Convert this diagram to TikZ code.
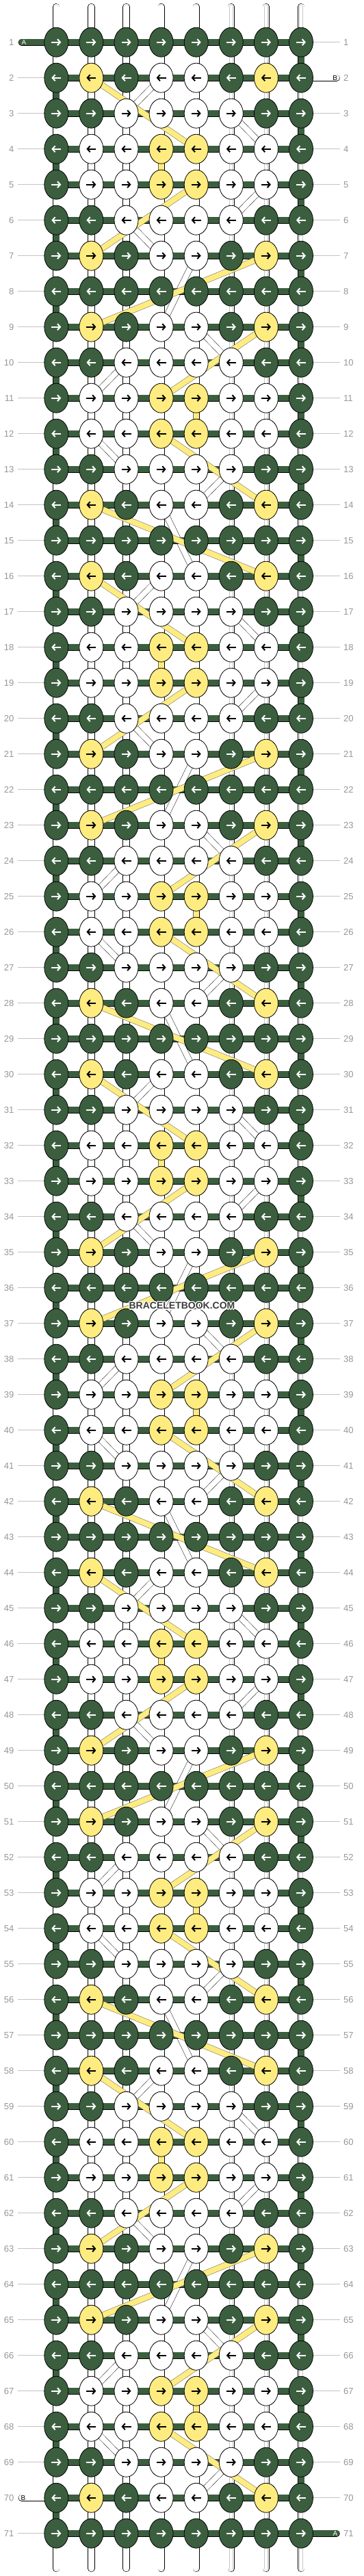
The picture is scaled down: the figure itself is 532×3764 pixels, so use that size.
\documentclass[tikz,border=0pt]{standalone}
\usepackage{fontspec}
\setmainfont{Liberation Sans}
\usetikzlibrary{calc}
\usetikzlibrary{shapes.geometric}
\usetikzlibrary{arrows.meta}
\definecolor{knotgreen}{RGB}{59,94,63}
\definecolor{knotyellow}{RGB}{255,236,128}
\definecolor{rowgray}{RGB}{150,150,150}
\definecolor{linegray}{RGB}{195,195,195}
\definecolor{markgray}{RGB}{60,60,60}
% 0 = green, 1 = white, 2 = yellow; one line of 8 per row of the 7-row motif
\def\knotmap{{0,0,0,0,0,0,0,0,
              0,2,0,1,1,0,2,0,
              0,0,1,1,1,1,0,0,
              0,1,1,2,2,1,1,0,
              0,1,1,2,2,1,1,0,
              0,0,1,1,1,1,0,0,
              0,2,0,1,1,0,2,0}}

\begin{document}
\begin{tikzpicture}[x=1pt,y=-1pt,
    kn0/.style={ellipse,draw=black,line width=0.8pt,fill=knotgreen,
      minimum width=35pt,minimum height=43pt,inner sep=0pt},
    kn1/.style={kn0,fill=white},
    kn2/.style={kn0,fill=knotyellow},
    ar0/.style={white,line width=2pt,-{Straight Barb[length=4pt,width=9pt]}},
    ar1/.style={ar0,black},
    ar2/.style={ar1},
    wstrand/.style={draw=black,line width=0.6pt,double=white,double distance=9pt},
    wcore/.style={draw=black!22,line width=0.5pt,double=white,double distance=4.5pt},
    gstrand/.style={draw=black,line width=0.6pt,double=knotgreen,double distance=9pt},
    ystrand/.style={draw=black!60,line width=0.5pt,double=knotyellow,double distance=8pt},
    wdiag/.style={draw=black,line width=0.45pt,double=white,double distance=8pt},
    rownum/.style={text=rowgray,font=\fontsize{13}{13}\selectfont,inner sep=0pt},
    rowline/.style={draw=linegray,line width=0.7pt},
    endlabel/.style={font=\fontsize{10}{10}\selectfont,inner sep=0pt},
    wmark/.style={font=\fontsize{14}{14}\selectfont\bfseries,inner sep=0pt}]
  \useasboundingbox (0,0) rectangle (532,3764);

  \foreach \r in {1,...,71}{
    \foreach \c in {1,...,8}{
      \coordinate (p-\r-\c) at ({82.3+(\c-1)*51.1},{61.7+(\r-1)*52});
    }
    \coordinate (ll-\r) at (25.7,{61.7+(\r-1)*52});
    \coordinate (rr-\r) at (496.7,{61.7+(\r-1)*52});
  }
  \foreach \c in {1,...,8}{
    \coordinate (top-\c) at ({82.3+(\c-1)*51.1},10);
    \coordinate (bot-\c) at ({82.3+(\c-1)*51.1},3753);
  }
  \coordinate (aL) at (31.7,61.7);
  \coordinate (bR) at (491.7,113.7);
  \coordinate (bL) at (31.7,3649.7);
  \coordinate (aR) at (491.7,3701.7);

  % row numbers and guide lines
  \foreach \r in {1,...,71}{
    \node[rownum,anchor=east] (nl-\r) at ($(ll-\r)+(-5.2,0)$) {\r};
    \node[rownum,anchor=west] (nr-\r) at ($(rr-\r)+(5.3,0)$) {\r};
    \ifnum\r=1\else\ifnum\r=70\else\draw[rowline] (ll-\r) -- (p-\r-1);\fi\fi
    \ifnum\r=2\else\ifnum\r=71\else\draw[rowline] (p-\r-8) -- (rr-\r);\fi\fi
  }

  % vertical strings
  \foreach \c in {1,...,8}{
    \draw[wstrand,line cap=round] (top-\c) -- (p-1-\c);
    \draw[wcore,line cap=round] (top-\c) -- (p-1-\c);
    \draw[wstrand,line cap=round] (p-71-\c) -- (bot-\c);
    \draw[wcore,line cap=round] (p-71-\c) -- (bot-\c);
  }
  \foreach \r [evaluate=\r as \s using int(\r+1)] in {1,...,70}{
    \foreach \c in {1,...,8}{
      \draw[wstrand] (p-\r-\c) -- (p-\s-\c);
      \draw[wcore] (p-\r-\c) -- (p-\s-\c);
    }
  }
  \foreach \r [evaluate=\r as \s using int(\r+1)] in {1,3,...,69}
    \draw[gstrand] (p-\r-8) -- (p-\s-8);
  \foreach \r [evaluate=\r as \s using int(\r+1)] in {2,4,...,70}
    \draw[gstrand] (p-\r-1) -- (p-\s-1);
  \foreach \o in {0,14,28,42,56}{
    \foreach \ra/\ca in {4/4,11/5}{
      \pgfmathtruncatemacro\sa{\ra+\o}
      \pgfmathtruncatemacro\sb{\ra+\o+1}
      \draw[ystrand] (p-\sa-\ca) -- (p-\sb-\ca);
    }
  }

  % white strings moving behind
  \foreach \o in {0,14,28,42,56}{
    \foreach \ra/\ca/\rb/\cb in {2/4/3/3,3/6/4/7,5/7/6/6,6/3/7/4,7/5/9/4,
        9/5/10/6,10/3/11/2,12/2/13/3,13/6/14/5,14/4/16/5}{
      \pgfmathtruncatemacro\sa{\ra+\o}
      \pgfmathtruncatemacro\sb{\rb+\o}
      \ifnum\sb<72 \draw[wdiag] (p-\sa-\ca) -- (p-\sb-\cb);\fi
    }
  }

  % knotting string A and the ends
  \foreach \r in {1,...,71}
    \draw[gstrand] (p-\r-1) -- (p-\r-8);
  \draw[gstrand,line cap=round] (aL) -- (p-1-1);
  \draw[gstrand,line cap=round] (p-71-8) -- (aR);
  \draw[wstrand,line cap=round] (p-2-8) -- (bR);
  \draw[wstrand,line cap=round] (bL) -- (p-70-1);
  \node[endlabel,text=white] (labA1) at ($(aL)+(3.3,0)$) {A};
  \node[endlabel,text=white] (labA2) at ($(aR)+(-1.7,0)$) {A};
  \node[endlabel] (labB1) at ($(bR)+(-2,0)$) {B};
  \node[endlabel] (labB2) at ($(bL)+(2.3,0)$) {B};

  % yellow strings moving behind
  \foreach \o in {0,14,28,42,56}{
    \foreach \ra/\ca/\rb/\cb in {2/2/4/5,5/5/7/2,7/7/9/2,9/7/11/4,
        12/4/14/7,14/2/16/7}{
      \pgfmathtruncatemacro\sa{\ra+\o}
      \pgfmathtruncatemacro\sb{\rb+\o}
      \ifnum\sb<72 \draw[ystrand] (p-\sa-\ca) -- (p-\sb-\cb);\fi
    }
  }

  % knots
  \foreach \r in {1,...,71}{
    \foreach \c in {1,...,8}{
      \pgfmathtruncatemacro\kc{\knotmap[int(mod(\r-1,7)*8+\c-1)]}
      \pgfmathsetmacro\xs{14*mod(\r+1,2)-7}
      \pgfmathsetmacro\xl{-2*\xs}
      \node[kn\kc] (k-\r-\c) at (p-\r-\c) {};
      \draw[ar\kc] (p-\r-\c) ++(\xs,0) -- ++(\xl,0);
    }
  }

  \foreach \dx/\dy [count=\i] in {-1.2/0,1.2/0,0/-1.2,0/1.2,-0.9/-0.9,0.9/-0.9,-0.9/0.9,0.9/0.9}
    \node[wmark,text=white] (halo-\i) at (266+\dx,1908+\dy) {BRACELETBOOK.COM};
  \node[wmark,text=markgray] (mark) at (266,1908) {BRACELETBOOK.COM};
\end{tikzpicture}
\end{document}
